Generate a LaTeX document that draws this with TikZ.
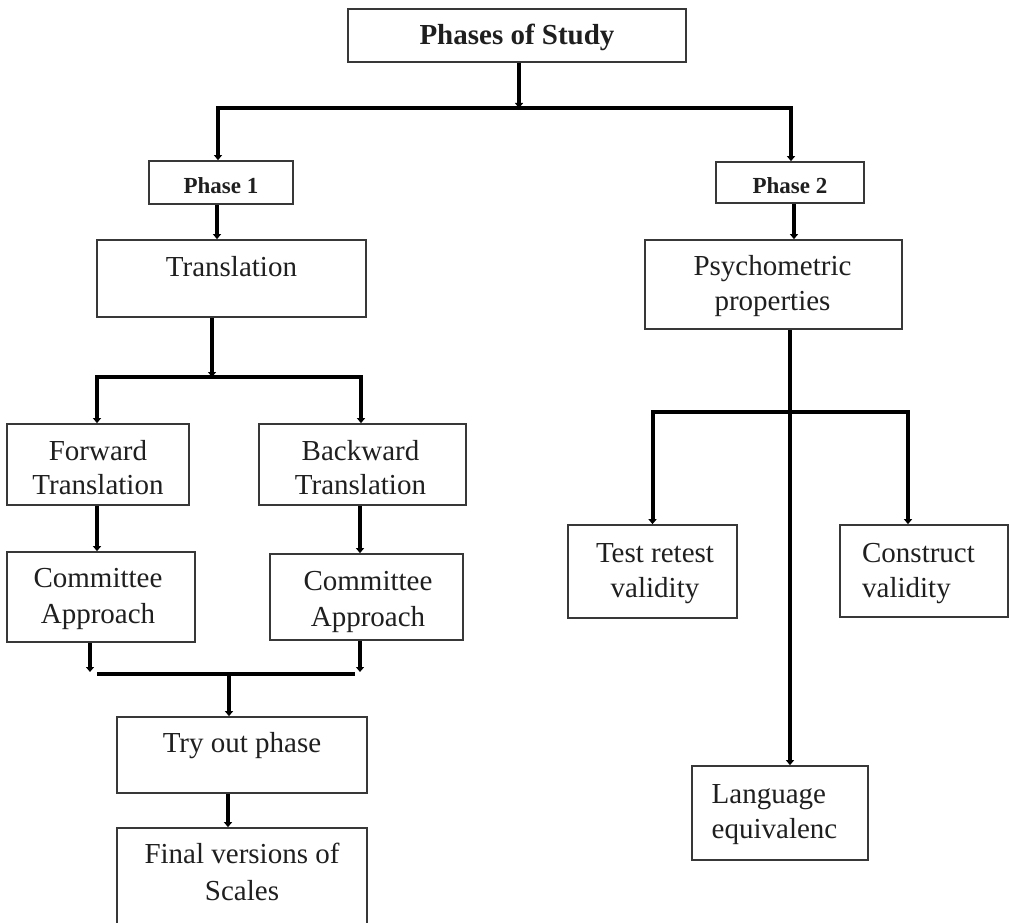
\documentclass[tikz,border=0pt]{standalone}
\usepackage{fontspec}
\setmainfont{Liberation Serif}
\usetikzlibrary{arrows.meta}
\newcommand\bt[4][c]{\raisebox{#3}[0pt][0pt]{\hspace*{#2}\begin{tabular}[b]{@{}#1@{}}#4\end{tabular}\hspace*{-#2}}}
\begin{document}
\begin{tikzpicture}[x=1pt,y=-1pt,
  box/.style={draw=black!78, line width=1.7pt, fill=white, inner sep=0pt,
    font=\fontsize{29}{36}\selectfont, text=black!88},
  titlebox/.style={box, font=\bfseries\fontsize{29}{35}\selectfont},
  phasebox/.style={box, font=\bfseries\fontsize{23}{28}\selectfont},
  conn/.style={draw=black, line width=4pt},
  arr/.style={conn, -{Triangle[width=8pt,length=5pt]}}]
\useasboundingbox (0,0) rectangle (1009,923);
% boxes
\node[titlebox, minimum width=338pt, minimum height=53pt] (study) at (517,35.5) {\bt{0pt}{-9.5pt}{Phases of Study}};
\node[phasebox, minimum width=144pt, minimum height=43pt] (ph1) at (221,182.5) {\bt{0pt}{-10.8pt}{Phase 1}};
\node[phasebox, minimum width=148pt, minimum height=41pt] (ph2) at (790,182.5) {\bt{0pt}{-10.8pt}{Phase 2}};
\node[box, minimum width=269pt, minimum height=77pt] (trans) at (231.5,278.5) {\bt{0pt}{2.5pt}{Translation}};
\node[box, minimum width=182pt, minimum height=81pt] (fwd) at (98,464.5) {\bt{0pt}{-29.5pt}{Forward\\[-2pt]Translation}};
\node[box, minimum width=207pt, minimum height=81pt] (bwd) at (362.5,464.5) {\bt{-2pt}{-29.5pt}{Backward\\[-2pt]Translation}};
\node[box, minimum width=188pt, minimum height=90pt] (com1) at (101,597) {\bt{-3pt}{-26pt}{Committee\\Approach}};
\node[box, minimum width=193pt, minimum height=86pt] (com2) at (366.5,597) {\bt{1.5pt}{-29pt}{Committee\\Approach}};
\node[box, minimum width=250pt, minimum height=76pt] (try) at (242,755) {\bt{0pt}{3pt}{Try out phase}};
\node[box, minimum width=250pt, minimum height=112pt] (final) at (242,884) {\bt{0pt}{-16pt}{Final versions of\\[1pt]Scales}};
\node[box, minimum width=257pt, minimum height=89pt] (psy) at (773.5,284.5) {\bt{-1pt}{-25.5pt}{Psychometric\\[-1pt]properties}};
\node[box, minimum width=169pt, minimum height=93pt] (test) at (652.5,571.5) {\bt{2.5pt}{-25.5pt}{Test retest\\[-1pt]validity}};
\node[box, minimum width=168pt, minimum height=92pt] (cons) at (924,571) {\bt[l]{-5.5pt}{-26pt}{Construct\\[-1pt]validity}};
\node[box, minimum width=176pt, minimum height=94pt] (lang) at (780,813) {\bt[l]{-5.5pt}{-25pt}{Language\\[-1pt]equivalenc}};
% junctions
\coordinate (j0) at (519,108);
\coordinate (j1) at (212,377);
\coordinate (m1) at (90,672);
\coordinate (m2) at (360,672);
\coordinate (j2) at (229,674);
\coordinate (j3) at (790,412);
% connectors
\draw[arr] (study.south -| j0) -- (j0);
\draw[arr] (j0) -| ([xshift=-3pt]ph1.north);
\draw[arr] (j0) -| ([xshift=1pt]ph2.north);
\draw[arr] ([xshift=-4pt]ph1.south) -- ([xshift=-4pt]ph1.south |- trans.north);
\draw[arr] (trans.south -| j1) -- (j1);
\draw[arr] (j1) -| ([xshift=-1pt]fwd.north);
\draw[arr] (j1) -| ([xshift=-1.5pt]bwd.north);
\draw[arr] ([xshift=-1pt]fwd.south) -- ([xshift=-1pt]fwd.south |- com1.north);
\draw[arr] ([xshift=-2.5pt]bwd.south) -- ([xshift=-2.5pt]bwd.south |- com2.north);
\draw[arr] (com1.south -| m1) -- (m1);
\draw[arr] (com2.south -| m2) -- (m2);
\draw[conn] ([xshift=7pt]m1 |- j2) -- ([xshift=-5pt]m2 |- j2);
\draw[arr] (j2) -- (j2 |- try.north);
\draw[arr] ([xshift=-14pt]try.south) -- ([xshift=-14pt]try.south |- final.north);
\draw[arr] ([xshift=4pt]ph2.south) -- ([xshift=4pt]ph2.south |- psy.north);
\draw[conn] (psy.south -| j3) -- (j3);
\draw[arr] (j3) -- (j3 |- lang.north);
\draw[arr] (j3) -| (test.north);
\draw[arr] (j3) -| ([xshift=-16pt]cons.north);
\end{tikzpicture}
\end{document}
